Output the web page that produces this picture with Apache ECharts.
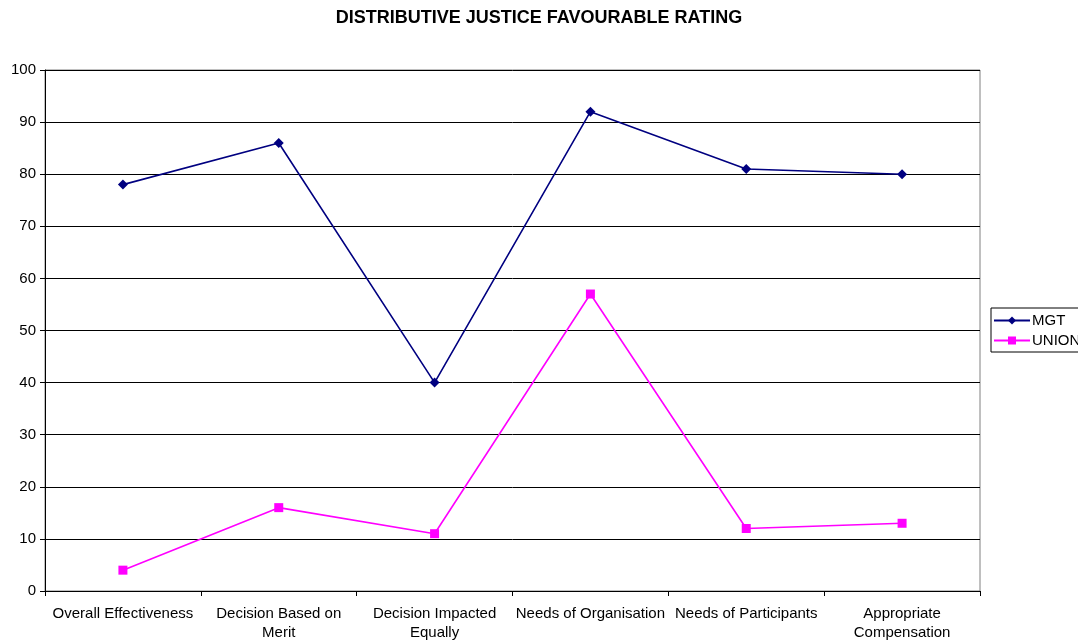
<!DOCTYPE html>
<html>
<head>
<meta charset="utf-8">
<script src="https://cdn.jsdelivr.net/npm/echarts@6/dist/echarts.min.js"></script>
<style>html,body{margin:0;padding:0;background:#fff}#c{width:1078px;height:642px}</style>
</head>
<body>
<div id="c"></div>
<script>
const categories = ["Overall Effectiveness", "Decision Based on Merit", "Decision Impacted Equally", "Needs of Organisation", "Needs of Participants", "Appropriate Compensation"];
const categoryLabels = ["Overall Effectiveness", "Decision Based on\nMerit", "Decision Impacted\nEqually", "Needs of Organisation", "Needs of Participants", "Appropriate\nCompensation"];
const mgt = [78, 86, 40, 92, 81, 80];
const union = [4, 16, 11, 57, 12, 13];

const chart = echarts.init(document.getElementById('c'));
const font = 'Liberation Sans, Arial, sans-serif';
chart.setOption({
  animation: false,
  backgroundColor: '#fff',
  title: {
    text: 'DISTRIBUTIVE JUSTICE FAVOURABLE RATING',
    left: 'center', top: 4,
    textStyle: { fontFamily: font, fontSize: 18, fontWeight: 'bold', color: '#000' }
  },
  legend: {
    orient: 'vertical',
    left: 991, top: 308,
    borderColor: '#000', borderWidth: 1,
    padding: [5, 30, 4, 2],
    itemGap: 5,
    itemWidth: 36, itemHeight: 10,
    textStyle: { fontFamily: font, fontSize: 15, color: '#000', padding: [0, 0, 0, -3] },
    data: ['MGT', 'UNION']
  },
  grid: { left: 45, right: 98, top: 70, bottom: 49, show: true, borderColor: '#808080', borderWidth: 1 },
  xAxis: {
    type: 'category',
    data: categories,
    boundaryGap: true,
    axisLine: { lineStyle: { color: '#000', width: 1 } },
    axisTick: { show: true, length: 5, lineStyle: { color: '#000' } },
    axisLabel: {
      fontFamily: font, fontSize: 15, color: '#000', margin: 13, lineHeight: 19, interval: 0,
      formatter: (v, i) => categoryLabels[i]
    },
    splitLine: { show: false }
  },
  yAxis: {
    type: 'value',
    min: 0, max: 100, interval: 10,
    axisLine: { show: true, lineStyle: { color: '#000', width: 1 } },
    axisTick: { show: true, length: 5, lineStyle: { color: '#000' } },
    axisLabel: { fontFamily: font, fontSize: 15, color: '#000', margin: 9 },
    splitLine: { show: true, lineStyle: { color: '#000', width: 1 } }
  },
  series: [
    {
      name: 'MGT', type: 'line', data: mgt,
      symbol: 'diamond', symbolSize: 10,
      lineStyle: { color: '#000080', width: 1.6 },
      itemStyle: { color: '#000080' }
    },
    {
      name: 'UNION', type: 'line', data: union,
      symbol: 'rect', symbolSize: 9,
      lineStyle: { color: '#FF00FF', width: 1.6 },
      itemStyle: { color: '#FF00FF' }
    }
  ]
});
</script>
</body>
</html>
